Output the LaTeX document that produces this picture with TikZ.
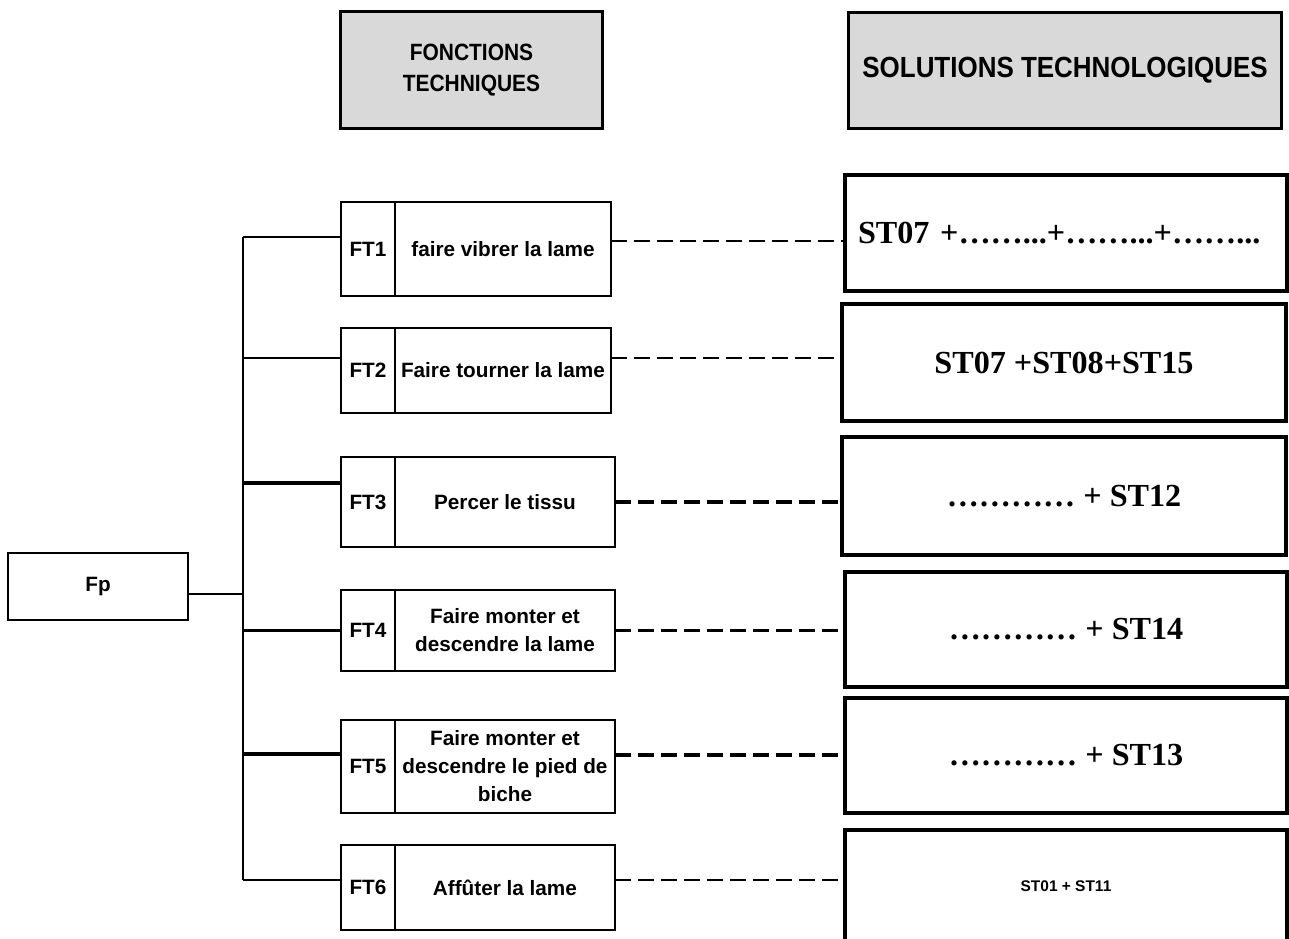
\documentclass[tikz,border=0pt]{standalone}
\usepackage{fontspec}
\setmainfont{Liberation Serif}
\setsansfont{Liberation Sans}
\newfontfamily\hdrfont[FakeStretch=0.89]{Liberation Sans}
\usetikzlibrary{positioning}
\definecolor{hdrgray}{RGB}{217,217,217}

\tikzset{
  box/.style={draw, line width=1.6pt, outer sep=0pt, inner sep=1pt},
  hdrbox/.style={box, line width=1.7pt, fill=hdrgray, align=center},
  numbox/.style={box, minimum width=1.08cm, font=\sffamily\bfseries\fontsize{11.8}{15.9}\selectfont},
  fnbox/.style={box, align=center, font=\sffamily\bfseries\fontsize{11.8}{15.9}\selectfont},
  solbox/.style={box, line width=1.8pt, minimum width=8.84cm, font=\rmfamily\bfseries\fontsize{18.3}{22}\selectfont},
  bus/.style={line width=1.5pt},
  thickbus/.style={line width=2.4pt},
  dashline/.style={line width=1.7pt, dash pattern=on 0.32cm off 0.14cm},
  thickdash/.style={line width=2.4pt, dash pattern=on 0.32cm off 0.14cm},
}

\begin{document}
\begin{tikzpicture}[x=0.02cm, y=-0.02cm]
    \useasboundingbox (0,0) rectangle (1289,939);
    \clip (0,0) rectangle (1289,939);

    % Headers
    \node[hdrbox, minimum width=5.26cm, minimum height=2.36cm, font=\hdrfont\bfseries\fontsize{13.4}{18}\selectfont]
        (hdrft) at (471.5,70) {FONCTIONS\\TECHNIQUES};
    \node[hdrbox, minimum width=8.68cm, minimum height=2.34cm, font=\hdrfont\bfseries\fontsize{16.6}{20}\selectfont]
        (hdrst) at (1065,70.5) {SOLUTIONS TECHNOLOGIQUES};

    % Principal function
    \node[fnbox, minimum width=3.6cm, minimum height=1.34cm] (fp) at (98,586.5) {Fp};

    % Technical functions
    \node[numbox, minimum height=1.88cm] (ft1n) at (368,249) {FT1};
    \node[fnbox, minimum height=1.88cm, minimum width=4.32cm, right=0pt of ft1n] (ft1) {faire vibrer la lame};
    \node[numbox, minimum height=1.70cm] (ft2n) at (368,370.5) {FT2};
    \node[fnbox, minimum height=1.70cm, minimum width=4.32cm, right=0pt of ft2n] (ft2) {Faire tourner la lame};
    \node[numbox, minimum height=1.80cm] (ft3n) at (368,502) {FT3};
    \node[fnbox, minimum height=1.80cm, minimum width=4.40cm, right=0pt of ft3n] (ft3) {Percer le tissu};
    \node[numbox, minimum height=1.62cm] (ft4n) at (368,630.5) {FT4};
    \node[fnbox, minimum height=1.62cm, minimum width=4.40cm, right=0pt of ft4n] (ft4) {Faire monter et\\descendre la lame};
    \node[numbox, minimum height=1.86cm] (ft5n) at (368,766.5) {FT5};
    \node[fnbox, minimum height=1.86cm, minimum width=4.40cm, right=0pt of ft5n] (ft5) {Faire monter et\\descendre le pied de\\biche};
    \node[numbox, minimum height=1.70cm] (ft6n) at (368,887.5) {FT6};
    \node[fnbox, minimum height=1.70cm, minimum width=4.40cm, right=0pt of ft6n] (ft6) {Affûter la lame};

    % Technological solutions
    \node[solbox, minimum height=2.32cm, text width=8.32cm, inner xsep=0.26cm, align=left] (st1) at (1066,233) {ST07 +……...+……...+……...};
    \node[solbox, minimum height=2.34cm, minimum width=8.88cm] (st2) at (1064,362.5) {ST07 +ST08+ST15};
    \node[solbox, minimum height=2.36cm, minimum width=8.88cm] (st3) at (1064,496) {………… + ST12};
    \node[solbox, minimum height=2.30cm] (st4) at (1066,629.5) {………… + ST14};
    \node[solbox, minimum height=2.30cm] (st5) at (1066,755.5) {………… + ST13};
    \node[solbox, minimum height=2.24cm, font=\sffamily\bfseries\fontsize{8.8}{10}\selectfont] (st6) at (1066,886) {ST01 + ST11};

    % Bus from Fp to the functions
    \coordinate (bus) at (243,0);
    \coordinate (b0) at ([yshift=-0.15cm]fp.east);
    \coordinate (b1) at ([yshift=0.24cm]ft1n.west);
    \coordinate (b2) at ([yshift=0.25cm]ft2n.west);
    \coordinate (b3) at ([yshift=0.38cm]ft3n.west);
    \coordinate (b4) at (ft4n.west);
    \coordinate (b5) at ([yshift=0.25cm]ft5n.west);
    \coordinate (b6) at ([yshift=0.15cm]ft6n.west);
    \draw[bus] (b1 -| bus) -- (b6 -| bus);
    \draw[bus] (b0) -- (b0 -| bus);
    \draw[bus] (b1) -- (b1 -| bus);
    \draw[bus] (b2) -- (b2 -| bus);
    \draw[thickbus] (b3) -- (b3 -| bus);
    \draw[bus] (b4) -- (b4 -| bus);
    \draw[thickbus] (b5) -- (b5 -| bus);
    \draw[bus] (b6) -- (b6 -| bus);

    % Dashed links to the solutions
    \coordinate (d1) at ([yshift=0.16cm]ft1.east);
    \coordinate (d2) at ([yshift=0.25cm]ft2.east);
    \coordinate (d3) at (ft3.east);
    \coordinate (d4) at (ft4.east);
    \coordinate (d5) at ([yshift=0.23cm]ft5.east);
    \coordinate (d6) at ([yshift=0.15cm]ft6.east);
    \draw[dashline] (d1) -- (d1 -| st1.west);
    \draw[dashline] (d2) -- (d2 -| st2.west);
    \draw[thickdash] (d3) -- (d3 -| st3.west);
    \draw[dashline] (d4) -- (d4 -| st4.west);
    \draw[thickdash] (d5) -- (d5 -| st5.west);
    \draw[dashline] (d6) -- (d6 -| st6.west);
\end{tikzpicture}
\end{document}
